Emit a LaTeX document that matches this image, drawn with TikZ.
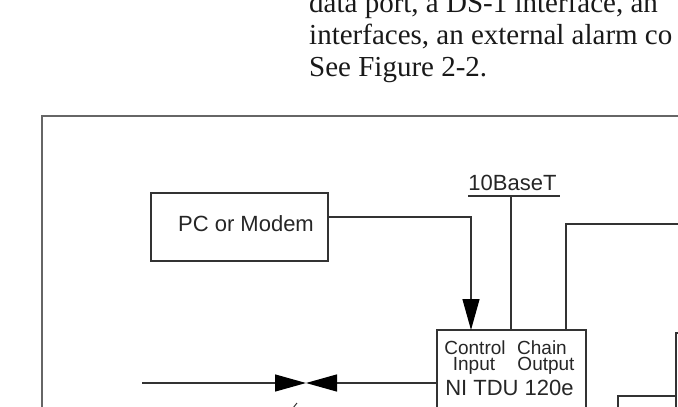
\documentclass[tikz,border=0pt]{standalone}
\usepackage{fontspec}
\setmainfont{Liberation Serif}
\newfontfamily\diagsans{Liberation Sans}
\usetikzlibrary{arrows.meta}
\begin{document}
\begin{tikzpicture}[x=1pt,y=-1pt,
  ln/.style={draw=black!80, line width=1.3pt},
  frame/.style={draw=black!60, line width=2pt},
  bodytext/.style={font=\fontsize{29}{32}\selectfont, inner sep=0pt, anchor=base west, text=black!90},
  lbl/.style={font=\diagsans\fontsize{22}{24}\selectfont, inner sep=0pt, anchor=base, text=black!85},
  smalllbl/.style={font=\diagsans\fontsize{19}{20}\selectfont, inner sep=0pt, anchor=base, text=black!85},
  boxn/.style={draw=black!80, line width=1.3pt, inner sep=0pt, outer sep=0pt, anchor=north west},
  tri/.style={-{Triangle[width=17pt,length=31pt,color=black]}}]
\useasboundingbox (0,0) rectangle (678,407);
\clip (0,0) rectangle (678,407);
% text above the figure
\node[bodytext] (t1) at (309,12) {data port, a DS-1 interface, an};
\node[bodytext] (t2) at (309,44) {interfaces, an external alarm co};
\node[bodytext] (t3) at (309,76) {See Figure 2-2.};
% outer frame
\draw[frame] (42,460) -- (42,116) -- (720,116);
% PC or Modem
\node[boxn, minimum width=177pt, minimum height=68pt] (pc) at (151,193) {};
\node[lbl] (pct) at (246,231) {PC or Modem};
% NI TDU box
\node[boxn, minimum width=149pt, minimum height=110pt] (tdu) at (437,330) {};
\node[smalllbl] (ctl) at (475,354) {Control};
\node[smalllbl] (inp) at (474,370) {Input};
\node[smalllbl] (chn) at (542,354) {Chain};
\node[smalllbl] (outp) at (546,370) {Output};
\node[lbl] (ni) at (509.5,395) {NI TDU 120e};
% 10BaseT
\node[lbl] (bt) at (512.5,190) {10BaseT};
\coordinate (ul1) at (468,196);
\coordinate (ul2) at (560,196);
\draw[ln] (ul1) -- (ul2);
\coordinate (btj) at (511,196);
\draw[ln] (btj) -- (btj |- tdu.north);
% PC to control input
\coordinate (pcout) at (328,217);
\coordinate (ctlin) at (471,330);
\draw[ln,tri] (pcout) -| (ctlin);
% chain output
\coordinate (chout) at (566,330);
\coordinate (chfar) at (720,224);
\draw[ln] (chout) |- (chfar);
% bow-tie line
\coordinate (lfree) at (142,383);
\coordinate (mid) at (306,383);
\draw[ln,tri] (lfree) -- (mid);
\draw[ln,tri] (tdu.west |- mid) -- (mid);
% small mark below
\draw[ln, line width=1pt] (293,408) -- (297,403);
% right side lines
\coordinate (r1) at (720,333);
\coordinate (r2) at (676,333);
\coordinate (r3) at (676,460);
\draw[ln] (r1) -- (r2) -- (r3);
\coordinate (b1) at (618,460);
\coordinate (b2) at (618,396);
\draw[ln] (b1) -- (b2) -- (b2 -| r2);
\end{tikzpicture}
\end{document}
